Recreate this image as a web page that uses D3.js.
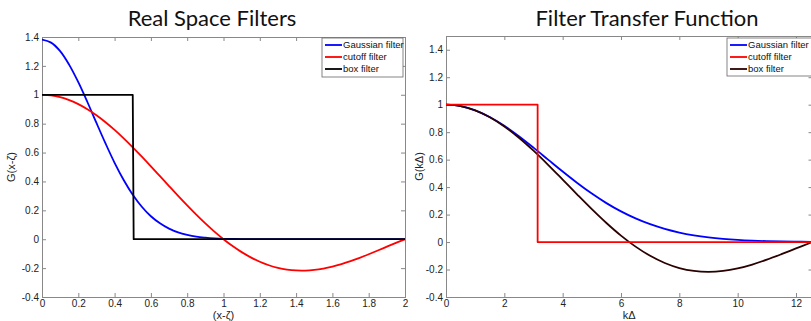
<!DOCTYPE html>
<html><head><meta charset="utf-8">
<script src="https://cdn.jsdelivr.net/npm/d3@7"></script>
<style>
body{margin:0;background:#fff;}
svg{display:block;}
</style></head>
<body>
<svg id="c" width="811" height="321"></svg>
<script>
// ---------- data ----------
const realX = [0,0.05,0.1,0.15,0.2,0.25,0.3,0.35,0.4,0.45,0.5,0.55,0.6,0.65,0.7,0.75,0.8,0.85,0.9,0.95,1.0,1.05,1.1,1.15,1.2,1.25,1.3,1.35,1.4,1.45,1.5,1.55,1.6,1.65,1.7,1.75,1.8,1.85,1.9,1.95,2.0];
const realGaussian = [1.382,1.361,1.302,1.207,1.087,0.950,0.805,0.663,0.529,0.410,0.308,0.225,0.159,0.110,0.073,0.047,0.030,0.018,0.011,0.006,0.003,0.002,0.001,0.0005,0.0002,0.0001,0,0,0,0,0,0,0,0,0,0,0,0,0,0,0];
const realCutoff = [1,0.9959,0.9836,0.9634,0.9355,0.9003,0.8584,0.8103,0.7568,0.6987,0.6366,0.5716,0.5046,0.4363,0.3679,0.3001,0.2339,0.1700,0.1093,0.0524,0,-0.0474,-0.0894,-0.1257,-0.1559,-0.1801,-0.1981,-0.2101,-0.2162,-0.2168,-0.2122,-0.2028,-0.1892,-0.1719,-0.1515,-0.1286,-0.1039,-0.0781,-0.0518,-0.0255,0];
const realBoxX = [0,0.5,0.505,2];
const realBox = [1,1,0,0];

const kX = [0,0.5,1,1.5,2,2.5,3,3.5,4,4.5,5,5.5,6,6.5,7,7.5,8,8.5,9,9.5,10,10.5,11,11.5,12,12.5,12.566];
const kGaussian = [1,0.9896,0.9592,0.9105,0.8465,0.7707,0.6873,0.6003,0.5134,0.4301,0.3529,0.2835,0.2231,0.1720,0.1298,0.0960,0.0695,0.0493,0.0342,0.0233,0.0155,0.0101,0.0065,0.0040,0.0025,0.0015,0.0014];
const kBox = [1,0.9896,0.9589,0.9089,0.8415,0.7592,0.6650,0.5623,0.4546,0.3458,0.2394,0.1388,0.0470,-0.0333,-0.1002,-0.1524,-0.1892,-0.2106,-0.2172,-0.2104,-0.1918,-0.1636,-0.1283,-0.0885,-0.0466,-0.0053,0];
const kCutoffX = [0,3.1416,3.1416,12.566];
const kCutoff = [1,1,0,0];

const yTicks = [-0.4,-0.2,0,0.2,0.4,0.6,0.8,1,1.2,1.4];
const realXTicks = [0,0.2,0.4,0.6,0.8,1,1.2,1.4,1.6,1.8,2];
const kXTicks = [0,2,4,6,8,10,12];
const legendLabels = ["Gaussian filter","cutoff filter","box filter"];

// ---------- drawing ----------
const svg = d3.select("#c");
const FONT = "'Liberation Sans', Arial, sans-serif";
const AX = "#888";

function panel(o){
  const g = svg.append("g");
  const x = d3.scaleLinear().domain(o.xDom).range([o.x0,o.x1]);
  const y = d3.scaleLinear().domain(o.yDom).range([o.y1,o.y0]);
  const fmt = d => String(+d.toFixed(2));
  // title
  g.append("text").attr("x",o.titleX).attr("y",26).attr("text-anchor","middle")
    .attr("font-family","Lato, 'Open Sans', sans-serif").attr("font-size",22).attr("fill","#111").text(o.title);
  // clip
  const cid = "clip"+o.id;
  svg.append("clipPath").attr("id",cid).append("rect")
    .attr("x",o.x0).attr("y",o.y0).attr("width",o.x1-o.x0).attr("height",o.y1-o.y0);
  // axes (matlab box style, ticks inside)
  const ax = [
    d3.axisBottom(x).tickValues(o.xTicks).tickSize(-4).tickFormat(fmt),
    d3.axisTop(x).tickValues(o.xTicks).tickSize(-4).tickFormat(""),
    d3.axisLeft(y).tickValues(yTicks).tickSize(-4).tickFormat(fmt),
    d3.axisRight(y).tickValues(yTicks).tickSize(-4).tickFormat("")
  ];
  const tr = [`translate(0,${o.y1})`,`translate(0,${o.y0})`,`translate(${o.x0},0)`,`translate(${o.x1},0)`];
  ax.forEach((a,i)=>{
    const ag = g.append("g").attr("transform",tr[i]).call(a);
    ag.select(".domain").attr("stroke",AX).attr("stroke-width",1);
    ag.selectAll(".tick line").attr("stroke",AX);
    ag.selectAll(".tick text").attr("font-family",FONT).attr("font-size",10).attr("fill","#222");
    if(i===0) ag.selectAll(".tick text").attr("dy","0.6em").attr("y",4);
    if(i===2) ag.selectAll(".tick text").attr("x",-3);
  });
  // labels
  g.append("text").attr("x",(o.x0+o.x1)/2).attr("y",319).attr("text-anchor","middle")
    .attr("font-family",FONT).attr("font-size",11).attr("fill","#222").text(o.xlabel);
  g.append("text").attr("transform",`translate(${o.ylabX},${(o.y0+o.y1)/2}) rotate(-90)`)
    .attr("text-anchor","middle").attr("font-family",FONT).attr("font-size",11).attr("fill","#222").text(o.ylabel);
  // curves
  const cg = g.append("g").attr("clip-path",`url(#${cid})`);
  o.series.forEach(s=>{
    const pts = s.xs.map((v,i)=>[v,s.ys[i]]);
    const line = d3.line().x(d=>x(d[0])).y(d=>y(d[1])).curve(s.smooth?d3.curveCatmullRom.alpha(0.5):d3.curveLinear);
    cg.append("path").datum(pts).attr("d",line).attr("fill","none")
      .attr("stroke",s.color).attr("stroke-width",1.8).attr("stroke-linejoin","round");
  });
  // legend
  const L = o.legend;
  const lg = g.append("g");
  lg.append("rect").attr("x",L.x).attr("y",L.y).attr("width",L.w).attr("height",L.h)
    .attr("fill","#fff").attr("stroke","#666").attr("stroke-width",0.8);
  legendLabels.forEach((t,i)=>{
    const yy = L.y+7+i*12;
    lg.append("line").attr("x1",L.x+3).attr("x2",L.x+20).attr("y1",yy).attr("y2",yy)
      .attr("stroke",L.colors[i]).attr("stroke-width",1.8);
    lg.append("text").attr("x",L.x+21).attr("y",yy).attr("dy","0.35em")
      .attr("font-family",FONT).attr("font-size",9.5).attr("fill","#111").text(t);
  });
}

panel({
  id:"L", title:"Real Space Filters", titleX:212,
  x0:42, x1:405, y0:37, y1:297, xDom:[0,2], yDom:[-0.4,1.4],
  xTicks:realXTicks, xlabel:"(x-ζ)", ylabel:"G(x-ζ)", ylabX:15,
  series:[
    {xs:realX, ys:realGaussian, color:"#0000ff", smooth:true},
    {xs:realX, ys:realCutoff, color:"#ff0000", smooth:true},
    {xs:realBoxX, ys:realBox, color:"#000000", smooth:false}
  ],
  legend:{x:322, y:38, w:81, h:39, colors:["#0000ff","#ff0000","#000000"]}
});

panel({
  id:"R", title:"Filter Transfer Function", titleX:647,
  x0:446, x1:812.5, y0:36, y1:297, xDom:[0,12.566], yDom:[-0.4,1.5],
  xTicks:kXTicks, xlabel:"kΔ", ylabel:"G(kΔ)", ylabX:423,
  series:[
    {xs:kX, ys:kGaussian, color:"#0000ff", smooth:true},
    {xs:kX, ys:kBox, color:"#2a0000", smooth:true},
    {xs:kCutoffX, ys:kCutoff, color:"#ff0000", smooth:false}
  ],
  legend:{x:727, y:38, w:90, h:38, colors:["#0000ff","#ff0000","#2a0000"]}
});
</script>
</body></html>
